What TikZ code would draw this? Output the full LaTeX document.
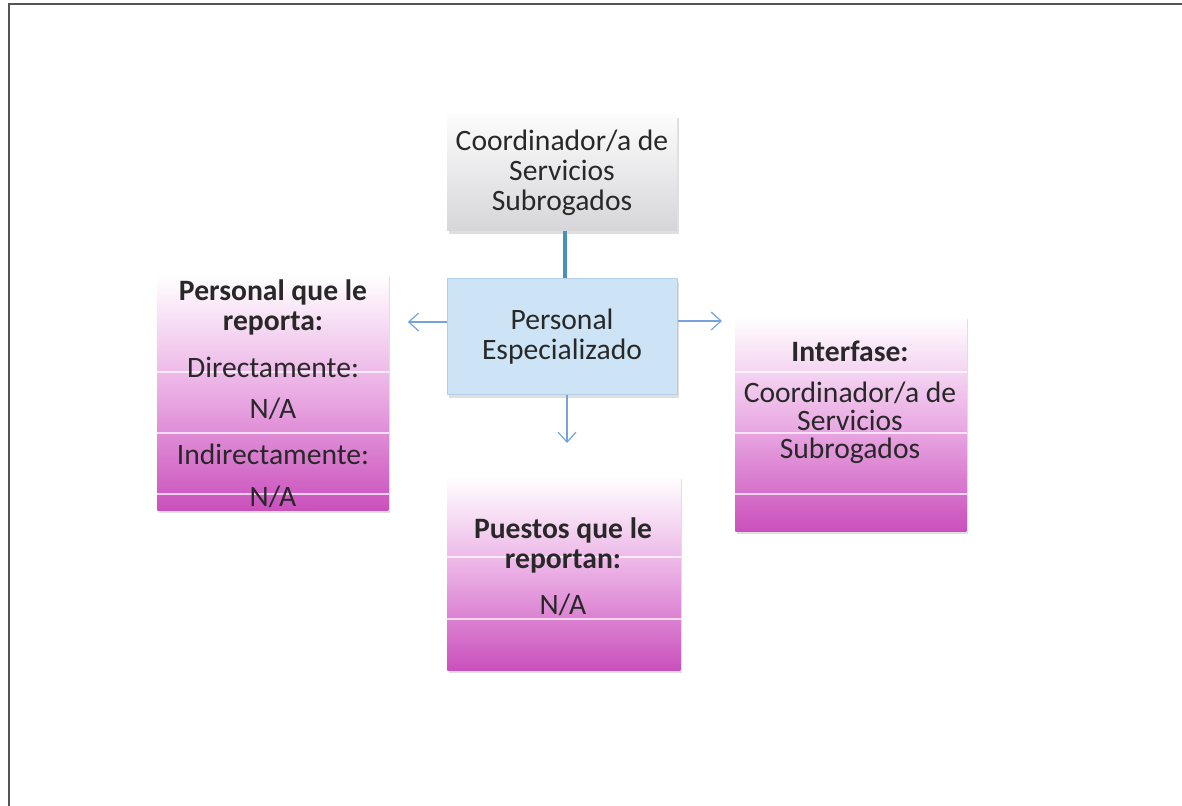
\documentclass[tikz,border=0pt]{standalone}
\usepackage{fontspec}
\setmainfont{Carlito}
\usetikzlibrary{positioning, arrows.meta, calc, shadows}
\definecolor{txtc}{RGB}{40,40,40}
\definecolor{pinkmid}{RGB}{234,172,228}
\definecolor{pinkbot}{RGB}{202,80,188}
\definecolor{bluebox}{RGB}{204,228,245}
\definecolor{blueedge}{RGB}{178,206,232}
\definecolor{graytop}{RGB}{252,252,252}
\definecolor{graybot}{RGB}{214,214,218}
\definecolor{linkc}{RGB}{72,145,186}
\definecolor{arrc}{RGB}{118,163,222}
\definecolor{frmc}{RGB}{85,85,85}
\newcommand{\fsz}{\fontsize{14.8}{15}\selectfont}
\tikzset{
  arr/.style={-{Straight Barb[length=5pt,width=9pt]}, line width=0.6pt, draw=arrc},
  lnk/.style={line width=2pt, draw=linkc},
  frm/.style={line width=1.4pt, draw=frmc},
  shd/.style={drop shadow={opacity=0.25, shadow xshift=0.8pt, shadow yshift=-1.3pt}},
  blk/.style={shd, minimum width=115pt, minimum height=58pt, inner sep=0pt, align=center, text=txtc},
  pbox/.style={shd, anchor=north west, inner sep=0pt, top color=white, bottom color=pinkbot, middle color=pinkmid},
  strip/.style={draw=white, line width=0.8pt, opacity=0.7},
  lab/.style={align=center, inner sep=0pt, text=txtc},
  hd/.style={lab, font=\fsz\bfseries}
}

\begin{document}
\begin{tikzpicture}[x=0.5pt, y=-0.5pt, font=\fsz]
\useasboundingbox (0,0) rectangle (1182,806);
\draw[frm] (9,806) -- (9,4) -- (1182,4);

% top and centre
\node[blk, top color=graytop, bottom color=graybot] (coo) at (562,173)
  {Coordinador/a de\\Servicios\\Subrogados};
\node[blk, fill=bluebox, draw=blueedge, line width=0.5pt] (esp) at (562,337)
  {Personal\\Especializado};

% pink boxes
\node[pbox, minimum width=115.5pt, minimum height=118pt] (rep) at (157,274) {};
\node[pbox, minimum width=115.5pt, minimum height=107.5pt] (ifz) at (735,316) {};
\node[pbox, minimum width=116.5pt, minimum height=97pt] (pue) at (447,476) {};
\foreach \y in {372,433,494} {
  \draw[strip] (rep.west |- 0,\y) -- (rep.east |- 0,\y);
  \draw[strip] (ifz.west |- 0,\y) -- (ifz.east |- 0,\y);
}
\foreach \y in {557,619}
  \draw[strip] (pue.west |- 0,\y) -- (pue.east |- 0,\y);

\node[hd] (rephd) at (273,307) {Personal que le\\reporta:};
\node[lab] (dir) at (273,367) {Directamente:};
\node[lab] (dirna) at (273,409) {N/A};
\node[lab] (ind) at (273,454) {Indirectamente:};
\node[lab] (indna) at (273,497) {N/A};

\node[hd] (ifzhd) at (850,351) {Interfase:};
\node[lab, font=\fontsize{14.8}{14}\selectfont] (ifztx) at (850,423)
  {Coordinador/a de\\Servicios\\Subrogados};

\node[hd] (puehd) at (563,545) {Puestos que le\\reportan:};
\node[lab] (puena) at (563,605) {N/A};

% links
\draw[lnk] ([xshift=1.5pt]coo.south) -- ([xshift=1.5pt]esp.north);
\draw[arr, shorten >=9.5pt] ([yshift=7.5pt]esp.west) -- ([yshift=7.5pt]esp.west -| rep.east);
\draw[arr, shorten >=6.5pt] ([yshift=8pt]esp.east) -- ([yshift=8pt]esp.east -| ifz.west);
\draw[arr, shorten >=16.5pt] ([xshift=2.5pt]esp.south) -- ([xshift=2.5pt]esp.south |- pue.north);
\end{tikzpicture}
\end{document}
